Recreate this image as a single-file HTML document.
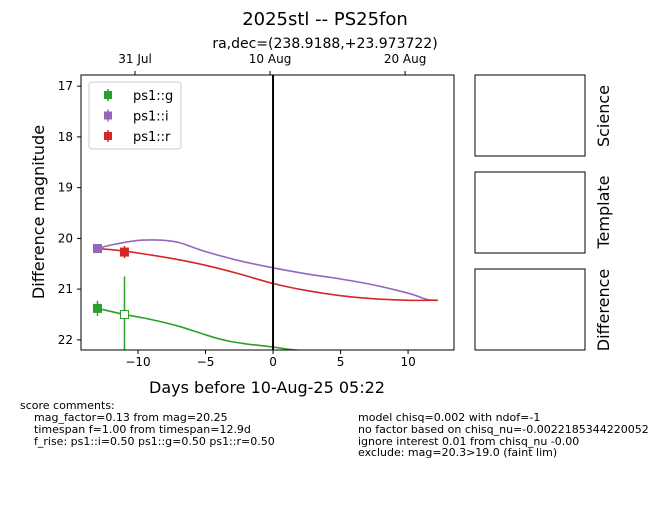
<!DOCTYPE html>
<html><head><meta charset="utf-8"><style>
body{margin:0;background:#fff;font-family:"Liberation Sans","DejaVu Sans",sans-serif}
svg text{font-family:"DejaVu Sans","Liberation Sans",sans-serif}
</style></head><body>
<svg id="c" width="650" height="500" viewBox="0 0 650 500">
<rect width="650" height="500" fill="#fff"/>
<text x="325" y="25" font-size="18" text-anchor="middle">2025stl -- PS25fon</text>
<text x="325" y="48" font-size="14" text-anchor="middle">ra,dec=(238.9188,+23.973722)</text>
<g id="plot"></g>
<rect x="475" y="75" width="110" height="81" fill="none" stroke="#000"/>
<rect x="475" y="172" width="110" height="81" fill="none" stroke="#000"/>
<rect x="475" y="269" width="110" height="81" fill="none" stroke="#000"/>
<text transform="translate(609,116) rotate(-90)" font-size="16" text-anchor="middle">Science</text>
<text transform="translate(609,212) rotate(-90)" font-size="16" text-anchor="middle">Template</text>
<text transform="translate(609,310) rotate(-90)" font-size="16" text-anchor="middle">Difference</text>
<g font-size="11">
<text x="20" y="409">score comments:</text>
<text x="34" y="421">mag_factor=0.13 from mag=20.25</text>
<text x="34" y="433">timespan f=1.00 from timespan=12.9d</text>
<text x="34" y="445">f_rise: ps1::i=0.50 ps1::g=0.50 ps1::r=0.50</text>
<text x="358" y="421">model chisq=0.002 with ndof=-1</text>
<text x="358" y="433">no factor based on chisq_nu=-0.0022185344220052</text>
<text x="358" y="445">ignore interest 0.01 from chisq_nu -0.00</text>
<text x="358" y="456">exclude: mag=20.3&gt;19.0 (faint lim)</text>
</g>
</svg>
<script>
const xTicks=[-10,-5,0,5,10];
const yTicks=[17,18,19,20,21,22];
const topTicks=[-10.22,-0.22,9.78];
const topLabels=["31 Jul","10 Aug","20 Aug"];
const iCurveX=[-13,-12,-11,-10,-9,-8,-7,-6,-5,-2.5,0,2.5,5,7.5,10,11,11.5,12.2];
const iCurveY=[20.2,20.13,20.08,20.04,20.03,20.04,20.08,20.17,20.26,20.44,20.58,20.7,20.8,20.92,21.08,21.17,21.21,21.22];
const rCurveX=[-13,-11,-9,-7,-5,-2.5,0,2.5,5,7.5,10,12.2];
const rCurveY=[20.2,20.25,20.33,20.42,20.53,20.7,20.89,21.03,21.13,21.19,21.22,21.22];
const gCurveX=[-13,-11,-9,-7,-5,-4,-3,-2,-1,0,1,2.5];
const gCurveY=[21.38,21.5,21.6,21.73,21.9,21.98,22.04,22.08,22.11,22.14,22.18,22.22];
const gPtX=[-13],gPtY=[21.38],gPtErr=[0.15];
const gOpenX=[-11],gOpenY=[21.5],gOpenErr=[0.75];
const iPtX=[-13],iPtY=[20.2],iPtErr=[0.05];
const rPtX=[-11],rPtY=[20.27],rPtErr=[0.12];
const L=81,R=454,T=75,B=350,X0=-14.22,X1=13.4,Y0=16.78,Y1=22.2;
const sx=v=>L+(v-X0)/(X1-X0)*(R-L), sy=v=>T+(v-Y0)/(Y1-Y0)*(B-T);
const NS="http://www.w3.org/2000/svg", g=document.getElementById('plot');
function el(t,a,p){const e=document.createElementNS(NS,t);for(const k in a)e.setAttribute(k,a[k]);(p||g).appendChild(e);return e;}
const cp=el('clipPath',{id:'cp'});el('rect',{x:L,y:T,width:R-L,height:B-T},cp);
const cg=el('g',{'clip-path':'url(#cp)'});


function smooth(xs,ys){const P=xs.map((x,i)=>[sx(x),sy(ys[i])]);let d='M'+P[0].join(',');
for(let i=0;i<P.length-1;i++){const p0=P[i-1]||P[i],p1=P[i],p2=P[i+1],p3=P[i+2]||p2;
d+='C'+(p1[0]+(p2[0]-p0[0])/6).toFixed(1)+','+(p1[1]+(p2[1]-p0[1])/6).toFixed(1)+' '+(p2[0]-(p3[0]-p1[0])/6).toFixed(1)+','+(p2[1]-(p3[1]-p1[1])/6).toFixed(1)+' '+p2[0].toFixed(1)+','+p2[1].toFixed(1);}return d;}
function curve(xs,ys,col,name){const p=el('path',{d:smooth(xs,ys),fill:'none',stroke:col,'stroke-width':1.6},cg);}
curve(iCurveX,iCurveY,'#9467bd','i-model-curve');
curve(rCurveX,rCurveY,'#d62728','r-model-curve');
curve(gCurveX,gCurveY,'#2ca02c','g-model-curve');
function pts(xs,ys,es,col,open,name){xs.forEach((x,i)=>{const l=el('line',{x1:sx(x),x2:sx(x),y1:sy(ys[i]-es[i]),y2:sy(ys[i]+es[i]),stroke:col,'stroke-width':1.5},cg);
const r=el('rect',{x:sx(x)-4,y:sy(ys[i])-4,width:8,height:8,fill:open?'#fff':col,stroke:col,'stroke-width':1},cg);});}
pts(gPtX,gPtY,gPtErr,'#2ca02c',false,'g');
pts(gOpenX,gOpenY,gOpenErr,'#2ca02c',true,'g-nondetection');
pts(iPtX,iPtY,iPtErr,'#9467bd',false,'i');
pts(rPtX,rPtY,rPtErr,'#d62728',false,'r');
const vl=el('line',{x1:sx(0),x2:sx(0),y1:T,y2:B,stroke:'#000','stroke-width':2});

const fr=el('rect',{x:L,y:T,width:R-L,height:B-T,fill:'none',stroke:'#000','stroke-width':1});

xTicks.forEach(v=>{el('line',{x1:sx(v),x2:sx(v),y1:B,y2:B+4,stroke:'#000'});const t=el('text',{x:sx(v),y:B+16,'font-size':12,'text-anchor':'middle'});t.textContent=v<0?'\u2212'+(-v):v;});
yTicks.forEach(v=>{el('line',{x1:L-4,x2:L,y1:sy(v),y2:sy(v),stroke:'#000'});const t=el('text',{x:L-8,y:sy(v)+4,'font-size':12,'text-anchor':'end'});t.textContent=v;});
topTicks.forEach((v,i)=>{el('line',{x1:sx(v),x2:sx(v),y1:T-4,y2:T,stroke:'#000'});const t=el('text',{x:sx(v),y:T-12,'font-size':12,'text-anchor':'middle'});t.textContent=topLabels[i];});
const xt=el('text',{x:267,y:393,'font-size':16,'text-anchor':'middle'});xt.textContent='Days before 10-Aug-25 05:22';

const yt=el('text',{transform:'translate(44,212) rotate(-90)','font-size':16,'text-anchor':'middle'});yt.textContent='Difference magnitude';

const lg=el('g',{});
el('rect',{x:89,y:82,width:92,height:67,rx:3,fill:'#fff',stroke:'#ccc'},lg);
[['ps1::g','#2ca02c'],['ps1::i','#9467bd'],['ps1::r','#d62728']].forEach((e,i)=>{const y=95+i*20.5;
const eg=el('g',{},lg);
el('line',{x1:108,x2:108,y1:y-6,y2:y+6,stroke:e[1],'stroke-width':1.5},eg);
el('rect',{x:104,y:y-4,width:8,height:8,fill:e[1]},eg);
const t=el('text',{x:133,y:y+5,'font-size':13},eg);t.textContent=e[0];});
</script>
</body></html>
